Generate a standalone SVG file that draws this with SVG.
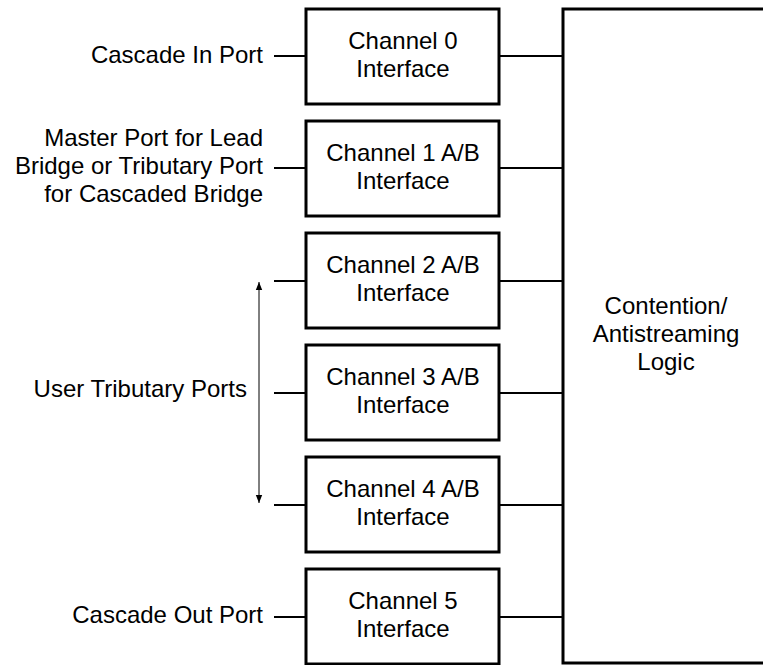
<svg xmlns="http://www.w3.org/2000/svg" width="763" height="665" viewBox="0 0 763 665">
<style>
.box{fill:#fff;stroke:#000;stroke-width:3}
.ln{stroke:#000;stroke-width:2;fill:none}
.t{font-family:"Liberation Sans",Arial,sans-serif;font-size:24px;fill:#000}
.c{text-anchor:middle}
.r{text-anchor:end}
</style>
<defs>
<marker id="ah" viewBox="0 0 10 10" refX="10" refY="5" markerWidth="8" markerHeight="8" orient="auto-start-reverse" markerUnits="userSpaceOnUse">
<path d="M0,1 L10,5 L0,9 Z" fill="#000"/>
</marker>
</defs>
<rect width="763" height="665" fill="#fff"/>
<g id="connectors">
<line class="ln" x1="274" y1="56" x2="306" y2="56"/>
<line class="ln" x1="499" y1="56" x2="563" y2="56"/>
<line class="ln" x1="274" y1="168" x2="306" y2="168"/>
<line class="ln" x1="499" y1="168" x2="563" y2="168"/>
<line class="ln" x1="274" y1="281" x2="306" y2="281"/>
<line class="ln" x1="499" y1="281" x2="563" y2="281"/>
<line class="ln" x1="274" y1="393" x2="306" y2="393"/>
<line class="ln" x1="499" y1="393" x2="563" y2="393"/>
<line class="ln" x1="274" y1="505" x2="306" y2="505"/>
<line class="ln" x1="499" y1="505" x2="563" y2="505"/>
<line class="ln" x1="274" y1="617" x2="306" y2="617"/>
<line class="ln" x1="499" y1="617" x2="563" y2="617"/>
<line x1="259" y1="282" x2="259" y2="503" stroke="#000" stroke-width="1" marker-start="url(#ah)" marker-end="url(#ah)"/>
</g>
<g id="logic">
<rect class="box" x="563" y="9" width="220" height="654"/>
<text class="t c" x="666" y="314">Contention/</text>
<text class="t c" x="666" y="342">Antistreaming</text>
<text class="t c" x="666" y="370">Logic</text>
</g>
<g id="ch0">
<rect class="box" x="306" y="9" width="193" height="95"/>
<text class="t c" x="403" y="49">Channel 0</text>
<text class="t c" x="403" y="77">Interface</text>
</g>
<g id="ch1">
<rect class="box" x="306" y="121" width="193" height="95"/>
<text class="t c" x="403" y="161">Channel 1 A/B</text>
<text class="t c" x="403" y="189">Interface</text>
</g>
<g id="ch2">
<rect class="box" x="306" y="233" width="193" height="95"/>
<text class="t c" x="403" y="273">Channel 2 A/B</text>
<text class="t c" x="403" y="301">Interface</text>
</g>
<g id="ch3">
<rect class="box" x="306" y="345" width="193" height="95"/>
<text class="t c" x="403" y="385">Channel 3 A/B</text>
<text class="t c" x="403" y="413">Interface</text>
</g>
<g id="ch4">
<rect class="box" x="306" y="457" width="193" height="95"/>
<text class="t c" x="403" y="497">Channel 4 A/B</text>
<text class="t c" x="403" y="525">Interface</text>
</g>
<g id="ch5">
<rect class="box" x="306" y="569" width="193" height="95"/>
<text class="t c" x="403" y="609">Channel 5</text>
<text class="t c" x="403" y="637">Interface</text>
</g>
<g id="labels">
<text class="t r" x="263" y="63">Cascade In Port</text>
<text class="t r" x="263" y="146">Master Port for Lead</text>
<text class="t r" x="263" y="174">Bridge or Tributary Port</text>
<text class="t r" x="263" y="202">for Cascaded Bridge</text>
<text class="t r" x="247" y="397">User Tributary Ports</text>
<text class="t r" x="263" y="623">Cascade Out Port</text>
</g>
</svg>
